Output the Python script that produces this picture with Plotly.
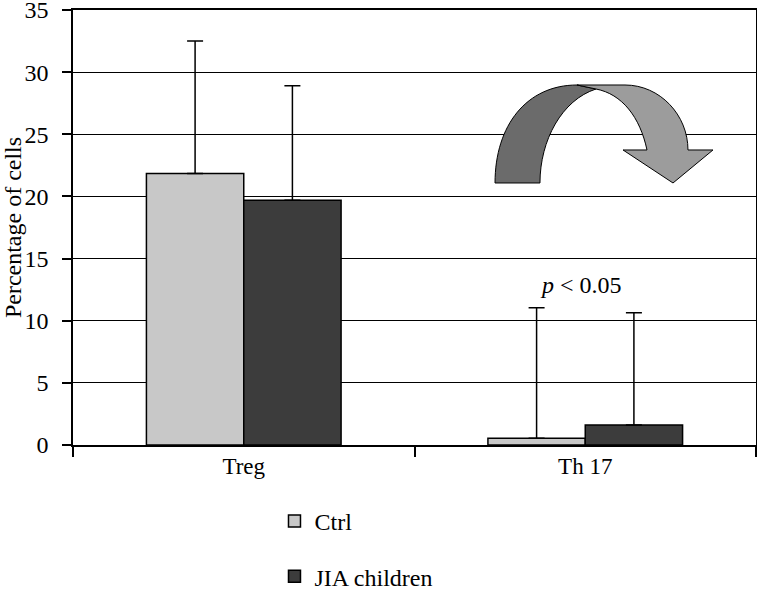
import plotly.graph_objects as go

# values
cells = ["Treg", "Th 17"]
ctrl_mean = [21.85, 0.55]
ctrl_err = [10.65, 10.5]
jia_mean = [19.7, 1.6]
jia_err = [9.2, 9.05]

FONT = "Liberation Serif"

fig = go.Figure()
fig.add_trace(go.Bar(
    x=cells, y=ctrl_mean, name="Ctrl", legendgroup="a",
    marker=dict(color="#c8c8c8", line=dict(color="black", width=1.5)),
    error_y=dict(type="data", symmetric=False, array=ctrl_err, arrayminus=[0, 0],
                 color="black", thickness=1.5, width=8),
))
fig.add_trace(go.Bar(
    x=cells, y=jia_mean, name="JIA children", legendgroup="b",
    marker=dict(color="#3c3c3c", line=dict(color="black", width=1.5)),
    error_y=dict(type="data", symmetric=False, array=jia_err, arrayminus=[0, 0],
                 color="black", thickness=1.5, width=8),
))


# curved arrow drawn in pixel space, converted to paper coords
def P(px, py):
    return "%.4f,%.4f" % ((px - 73) / 683.0, (445 - py) / 435.0)


dark = ("M " + P(495, 183) + " C " + P(495, 125) + " " + P(527, 85) + " " + P(577, 85)
        + " L " + P(596, 89) + " C " + P(562, 100) + " " + P(540, 140) + " " + P(540, 183) + " Z")
light = ("M " + P(577, 85) + " L " + P(625, 85) + " C " + P(660, 85) + " " + P(688, 115) + " " + P(688, 150)
         + " L " + P(713, 150) + " L " + P(673, 183) + " L " + P(623, 150) + " L " + P(647, 150)
         + " C " + P(640, 117) + " " + P(622, 94) + " " + P(596, 89) + " Z")

shapes = [
    dict(type="path", xref="paper", yref="paper", path=dark, fillcolor="#6b6b6b",
         line=dict(color="black", width=1)),
    dict(type="path", xref="paper", yref="paper", path=light, fillcolor="#9c9c9c",
         line=dict(color="black", width=1)),
]

fig.update_layout(
    width=757, height=589,
    margin=dict(l=73, r=1, t=10, b=144, autoexpand=False),
    paper_bgcolor="white", plot_bgcolor="white",
    font=dict(family=FONT, color="black", size=24),
    barmode="group", bargap=0.43, bargroupgap=0,
    shapes=shapes,
    showlegend=True,
    legend=dict(x=0.295, y=-0.124, xanchor="left", yanchor="top",
                font=dict(size=24, family=FONT), tracegroupgap=21,
                traceorder="grouped", bgcolor="rgba(0,0,0,0)"),
    annotations=[dict(xref="paper", yref="paper", x=(581 - 73) / 683.0, y=(445 - 285) / 435.0,
                      xanchor="center", yanchor="middle",
                      text="<i>p</i> < 0.05", showarrow=False, font=dict(size=24, family=FONT))],
    xaxis=dict(showline=True, linecolor="black", linewidth=1.5, mirror=True,
               ticks="outside", tickson="boundaries", ticklen=10, tickwidth=1.5, tickcolor="black",
               tickfont=dict(size=23), showgrid=False),
    yaxis=dict(range=[0, 35], tickvals=[0, 5, 10, 15, 20, 25, 30, 35],
               showline=True, linecolor="black", linewidth=1.5, mirror=True,
               ticks="outside", ticklen=9, tickwidth=1.5, tickcolor="black",
               ticklabelstandoff=9, ticklabeloverflow="allow",
               showgrid=True, gridcolor="black", gridwidth=1.3, zeroline=False,
               tickfont=dict(size=24),
               title=dict(text="Percentage of cells", font=dict(size=24), standoff=0)),
)

fig.write_html("out.html", config={"displayModeBar": False},
               post_script="document.body.style.margin='0';")
